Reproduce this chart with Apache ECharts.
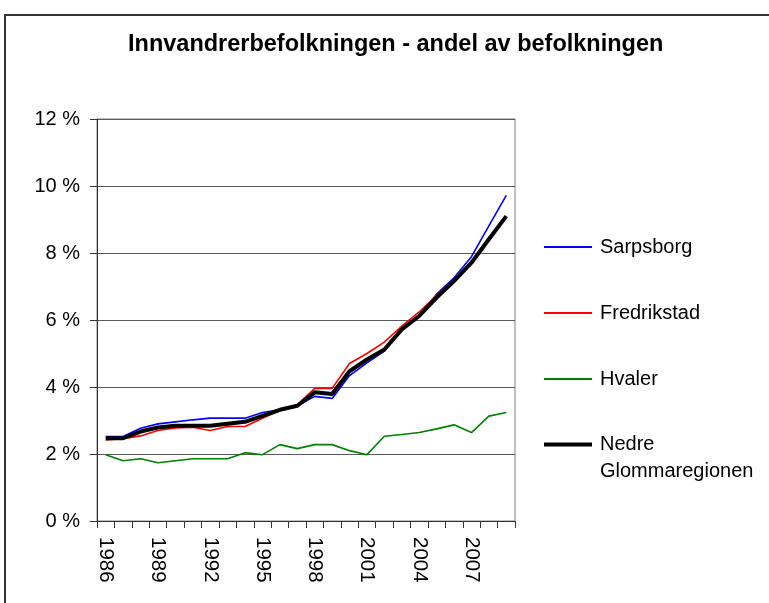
<!DOCTYPE html>
<html>
<head>
<meta charset="utf-8">
<title>Innvandrerbefolkningen</title>
<script src="https://cdn.jsdelivr.net/npm/echarts@6/dist/echarts.min.js"></script>
<style>
  html, body { margin: 0; padding: 0; background: #fff; }
  #chart { width: 769px; height: 603px; }
</style>
</head>
<body>
<div id="chart"></div>
<script>
var years = ['1986', '1987', '1988', '1989', '1990', '1991', '1992', '1993', '1994', '1995', '1996', '1997',
  '1998', '1999', '2000', '2001', '2002', '2003', '2004', '2005', '2006', '2007', '2008', '2009']
var sarpsborg = [2.52, 2.52, 2.77, 2.90, 2.96, 3.02, 3.07, 3.07, 3.07, 3.24, 3.32, 3.44,
  3.72, 3.66, 4.34, 4.72, 5.07, 5.72, 6.15, 6.77, 7.26, 7.89, 8.81, 9.72]
var fredrikstad = [2.42, 2.46, 2.54, 2.70, 2.78, 2.80, 2.70, 2.82, 2.82, 3.07, 3.30, 3.47,
  3.96, 3.96, 4.70, 5.00, 5.34, 5.82, 6.24, 6.74, 7.18, 7.74, 8.40, 9.08]
var hvaler = [1.98, 1.80, 1.86, 1.74, 1.80, 1.86, 1.86, 1.86, 2.04, 1.98, 2.28, 2.16,
  2.28, 2.28, 2.10, 1.98, 2.53, 2.58, 2.64, 2.75, 2.87, 2.64, 3.13, 3.24]
var nedre = [2.47, 2.47, 2.67, 2.79, 2.84, 2.84, 2.84, 2.90, 2.96, 3.14, 3.32, 3.44,
  3.84, 3.79, 4.47, 4.82, 5.12, 5.72, 6.12, 6.67, 7.16, 7.71, 8.41, 9.10]

var font = 'Liberation Sans, Arial, sans-serif'
var chart = echarts.init(document.getElementById('chart'))

function lineSeries (name, data, color, width) {
  return {
    name: name,
    type: 'line',
    data: data,
    symbol: 'none',
    color: color,
    lineStyle: { color: color, width: width },
    emphasis: { disabled: true }
  }
}

chart.setOption({
  animation: false,
  backgroundColor: '#fff',
  textStyle: { fontFamily: font },
  graphic: [
    {
      type: 'rect',
      shape: { x: 5, y: 15, width: 800, height: 700 },
      style: { fill: 'none', stroke: '#333', lineWidth: 2 },
      silent: true
    }
  ],
  title: {
    text: 'Innvandrerbefolkningen - andel av befolkningen',
    left: 128,
    top: 32,
    padding: 0,
    textStyle: { fontSize: 23.5, fontWeight: 'bold', color: '#000', lineHeight: 26, fontFamily: font }
  },
  legend: [
    {
      orient: 'vertical',
      left: 544,
      top: 234,
      padding: 0,
      itemWidth: 48,
      itemHeight: 2,
      itemGap: 40,
      icon: 'rect',
      selectedMode: false,
      data: ['Sarpsborg', 'Fredrikstad', 'Hvaler'],
      textStyle: { fontSize: 20, lineHeight: 26, color: '#000', fontFamily: font, padding: [0, 0, 0, 3] }
    },
    {
      orient: 'vertical',
      left: 544,
      top: 404,
      padding: 0,
      itemWidth: 48,
      itemHeight: 4,
      icon: 'rect',
      selectedMode: false,
      data: ['Nedre Glommaregionen'],
      // blank first line so "Nedre" sits level with the line sample
      formatter: function () { return ' \nNedre\nGlommaregionen' },
      textStyle: { fontSize: 20, lineHeight: 27, color: '#000', fontFamily: font, padding: [0, 0, 0, 3] }
    }
  ],
  grid: {
    left: 97,
    right: 254,
    top: 119,
    bottom: 82,
    show: true,
    borderColor: '#808080',
    borderWidth: 1
  },
  xAxis: {
    type: 'category',
    data: years,
    boundaryGap: true,
    axisLine: { lineStyle: { color: '#333', width: 1 } },
    axisTick: { show: true, interval: 0, length: 7, lineStyle: { color: '#333' } },
    axisLabel: {
      interval: 2,
      rotate: -90,
      margin: 16,
      fontSize: 20.5,
      color: '#000',
      fontFamily: font
    }
  },
  yAxis: {
    type: 'value',
    min: 0,
    max: 12,
    interval: 2,
    axisLine: { show: true, lineStyle: { color: '#333', width: 1 } },
    axisTick: { show: true, length: 7, lineStyle: { color: '#333' } },
    axisLabel: {
      formatter: '{value} %',
      margin: 17,
      fontSize: 20,
      color: '#000',
      fontFamily: font
    },
    splitLine: { show: true, lineStyle: { color: '#5a5a5a', width: 1 } }
  },
  series: [
    lineSeries('Sarpsborg', sarpsborg, '#0000ff', 1.6),
    lineSeries('Fredrikstad', fredrikstad, '#ff0000', 1.6),
    lineSeries('Hvaler', hvaler, '#008000', 1.6),
    lineSeries('Nedre Glommaregionen', nedre, '#000000', 4)
  ]
})
</script>
</body>
</html>
